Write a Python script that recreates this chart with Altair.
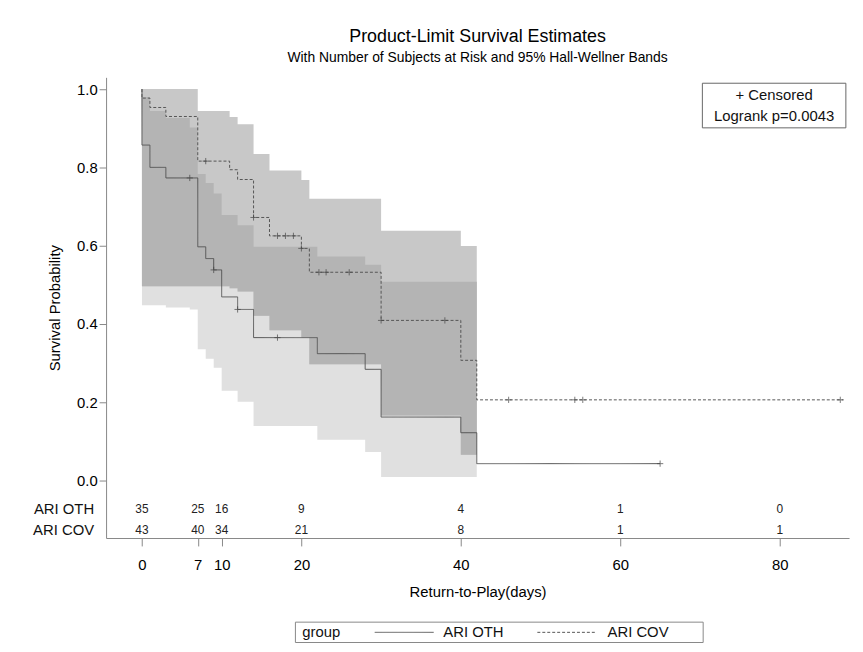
import altair as alt
import numpy as np
import pandas as pd

FONT = "Liberation Sans"

# Kaplan-Meier steps
OTH_T = [0, 0, 1, 3, 7, 8, 9, 10, 12, 14, 22, 28, 30, 40, 42, 65]
OTH_S = [1.0, 0.857, 0.80, 0.773, 0.597, 0.567, 0.538, 0.469, 0.437, 0.365, 0.324, 0.284, 0.162, 0.122, 0.043, 0.043]
COV_T = [0, 0, 1, 3, 7, 11, 12, 14, 16, 20, 21, 30, 40, 42, 88]
COV_S = [1.0, 0.977, 0.953, 0.930, 0.816, 0.794, 0.769, 0.672, 0.625, 0.593, 0.532, 0.409, 0.307, 0.206, 0.206]

# Hall-Wellner bands
OTH_BT = [0, 1, 3, 6, 7, 8, 9, 10, 12, 14, 22, 28, 30, 42]
OTH_UP = [0.980, 0.944, 0.926, 0.902, 0.783, 0.760, 0.733, 0.678, 0.652, 0.597, 0.572, 0.551, 0.508, 0.508]
OTH_LO = [0.448, 0.448, 0.442, 0.437, 0.335, 0.311, 0.288, 0.229, 0.201, 0.139, 0.104, 0.073, 0.009, 0.009]
COV_BT = [0, 3, 7, 11, 12, 14, 16, 20, 21, 30, 40, 42]
COV_UP = [1.0, 1.0, 0.944, 0.929, 0.910, 0.834, 0.792, 0.768, 0.720, 0.638, 0.599, 0.599]
COV_LO = [0.496, 0.496, 0.496, 0.491, 0.483, 0.421, 0.384, 0.365, 0.297, 0.166, 0.066, 0.066]

# censored observations
OTH_CT = [6, 9, 12, 17, 65]
OTH_CS = [0.773, 0.538, 0.437, 0.365, 0.043]
COV_CT = [8, 14, 17, 18, 19, 20, 22.2, 23.1, 26, 30, 38, 46, 54.3, 55.3, 87.6]
COV_CS = [0.816, 0.672, 0.625, 0.625, 0.625, 0.593, 0.532, 0.532, 0.532, 0.409, 0.409, 0.206, 0.206, 0.206, 0.206]

# number at risk
RISK_T = [0, 7, 10, 20, 40, 60, 80]
RISK_OTH = [35, 25, 16, 9, 4, 1, 0]
RISK_COV = [43, 40, 34, 21, 8, 1, 1]

GROUPS = ["ARI OTH", "ARI COV"]

XDOM = [-4.5, 88.7]
YDOM = [-0.147, 1.03]
x = alt.X("t:Q", scale=alt.Scale(domain=XDOM, nice=False, zero=False),
          axis=alt.Axis(values=[0, 7, 10, 20, 40, 60, 80], title="Return-to-Play(days)",
                        grid=False, labelFontSize=15, titleFontSize=15, titlePadding=12,
                        labelPadding=12, tickSize=8, labelFont=FONT, titleFont=FONT,
                        titleFontWeight="normal", domainColor="#888", tickColor="#888"))
y = alt.Y("s:Q", scale=alt.Scale(domain=YDOM, nice=False, zero=False),
          axis=alt.Axis(values=[0, 0.2, 0.4, 0.6, 0.8, 1.0], format=".1f", title="Survival Probability",
                        grid=False, labelFontSize=15, titleFontSize=15, titlePadding=14,
                        tickSize=7, labelFont=FONT, titleFont=FONT, titleFontWeight="normal",
                        domainColor="#888", tickColor="#888"))
dash = alt.StrokeDash("group:N", scale=alt.Scale(domain=GROUPS, range=[[1, 0], [3, 2]]), legend=None)


def band_df(t, up, lo):
    return pd.DataFrame({"t": t, "s": up, "s2": lo})


def step_at(t, v, q):
    i = np.searchsorted(np.array(t), q, side="right") - 1
    return np.array(v)[i]


# overlap of the two bands
ot = sorted(set(OTH_BT) | set(COV_BT))
ov = pd.DataFrame({
    "t": ot,
    "s": np.minimum(step_at(OTH_BT, OTH_UP, ot), step_at(COV_BT, COV_UP, ot)),
    "s2": np.maximum(step_at(OTH_BT, OTH_LO, ot), step_at(COV_BT, COV_LO, ot)),
})


def area(df, color):
    return alt.Chart(df).mark_area(interpolate="step-after", color=color).encode(
        x=x, y=y, y2="s2:Q")


lines = pd.concat([
    pd.DataFrame({"t": OTH_T, "s": OTH_S, "group": GROUPS[0], "o": range(len(OTH_T))}),
    pd.DataFrame({"t": COV_T, "s": COV_S, "group": GROUPS[1], "o": range(len(COV_T))}),
])
line = alt.Chart(lines).mark_line(interpolate="step-after", color="#555", strokeWidth=1).encode(
    x=x, y=y, order="o:Q", strokeDash=dash)

cens = pd.concat([pd.DataFrame({"t": OTH_CT, "s": OTH_CS}), pd.DataFrame({"t": COV_CT, "s": COV_CS})])
cross = alt.Chart(cens).mark_point(shape="M-1,0L1,0M0,-1L0,1", size=40, color="#444",
                                   strokeWidth=1, filled=False).encode(x=x, y=y)

risk = pd.concat([
    pd.DataFrame({"t": RISK_T, "s": -0.074, "n": RISK_OTH}),
    pd.DataFrame({"t": RISK_T, "s": -0.127, "n": RISK_COV}),
])
risk_txt = alt.Chart(risk).mark_text(fontSize=12, font=FONT, color="#222").encode(x=x, y=y, text="n:Q")
rowlab = alt.Chart(pd.DataFrame({"t": [-6.0, -6.0], "s": [-0.074, -0.127], "l": GROUPS})).mark_text(
    fontSize=15, font=FONT, align="right", clip=False, color="#111").encode(x=x, y=y, text="l:N")

box = alt.Chart(pd.DataFrame({"t": [70.3], "t2": [88.3], "s": [1.015], "s2": [0.901]})).mark_rect(
    fill="white", stroke="#666", strokeWidth=1).encode(x=x, x2="t2:Q", y=y, y2="s2:Q")
box_txt = alt.Chart(pd.DataFrame({"t": [79.3, 79.3], "s": [0.985, 0.93],
                                  "l": ["+ Censored", "Logrank p=0.0043"]})).mark_text(
    fontSize=15, font=FONT, color="#111").encode(x=x, y=y, text="l:N")

# legend drawn below the axis
leg_box = alt.Chart(pd.DataFrame({"t": [19.25], "t2": [70.4], "s": [-0.362], "s2": [-0.414]})).mark_rect(
    fill="white", stroke="#888", strokeWidth=1, clip=False).encode(x=x, x2="t2:Q", y=y, y2="s2:Q")
leg_line = alt.Chart(pd.DataFrame({"t": [29.2, 49.6], "t2": [36.6, 57.0], "s": [-0.388, -0.388],
                                   "group": GROUPS})).mark_rule(color="#555", strokeWidth=1, clip=False).encode(
    x=x, x2="t2:Q", y=y, strokeDash=dash)
leg_txt = alt.Chart(pd.DataFrame({"t": [20.1, 37.8, 58.4], "s": [-0.388] * 3,
                                  "l": ["group"] + GROUPS})).mark_text(
    fontSize=15, font=FONT, align="left", clip=False, color="#111").encode(x=x, y=y, text="l:N")

chart = alt.layer(
    area(band_df(OTH_BT, OTH_UP, OTH_LO), "#e0e0e0"),
    area(band_df(COV_BT, COV_UP, COV_LO), "#c8c8c8"),
    area(ov, "#b4b4b4"),
    line, cross, risk_txt, rowlab, box, box_txt, leg_box, leg_line, leg_txt,
).properties(
    width=750, height=465,
    autosize=alt.AutoSizeParams(type="none"),
    padding={"left": 99, "top": 67, "right": 6, "bottom": 106},
    title=alt.TitleParams("Product-Limit Survival Estimates",
                          subtitle="With Number of Subjects at Risk and 95% Hall-Wellner Bands",
                          font=FONT, fontSize=18, fontWeight="normal", subtitleFont=FONT,
                          subtitleFontSize=14, anchor="middle", offset=12, subtitlePadding=6),
).configure_view(stroke=None)

chart.save("out.html", embed_options={"renderer": "svg", "actions": False})
